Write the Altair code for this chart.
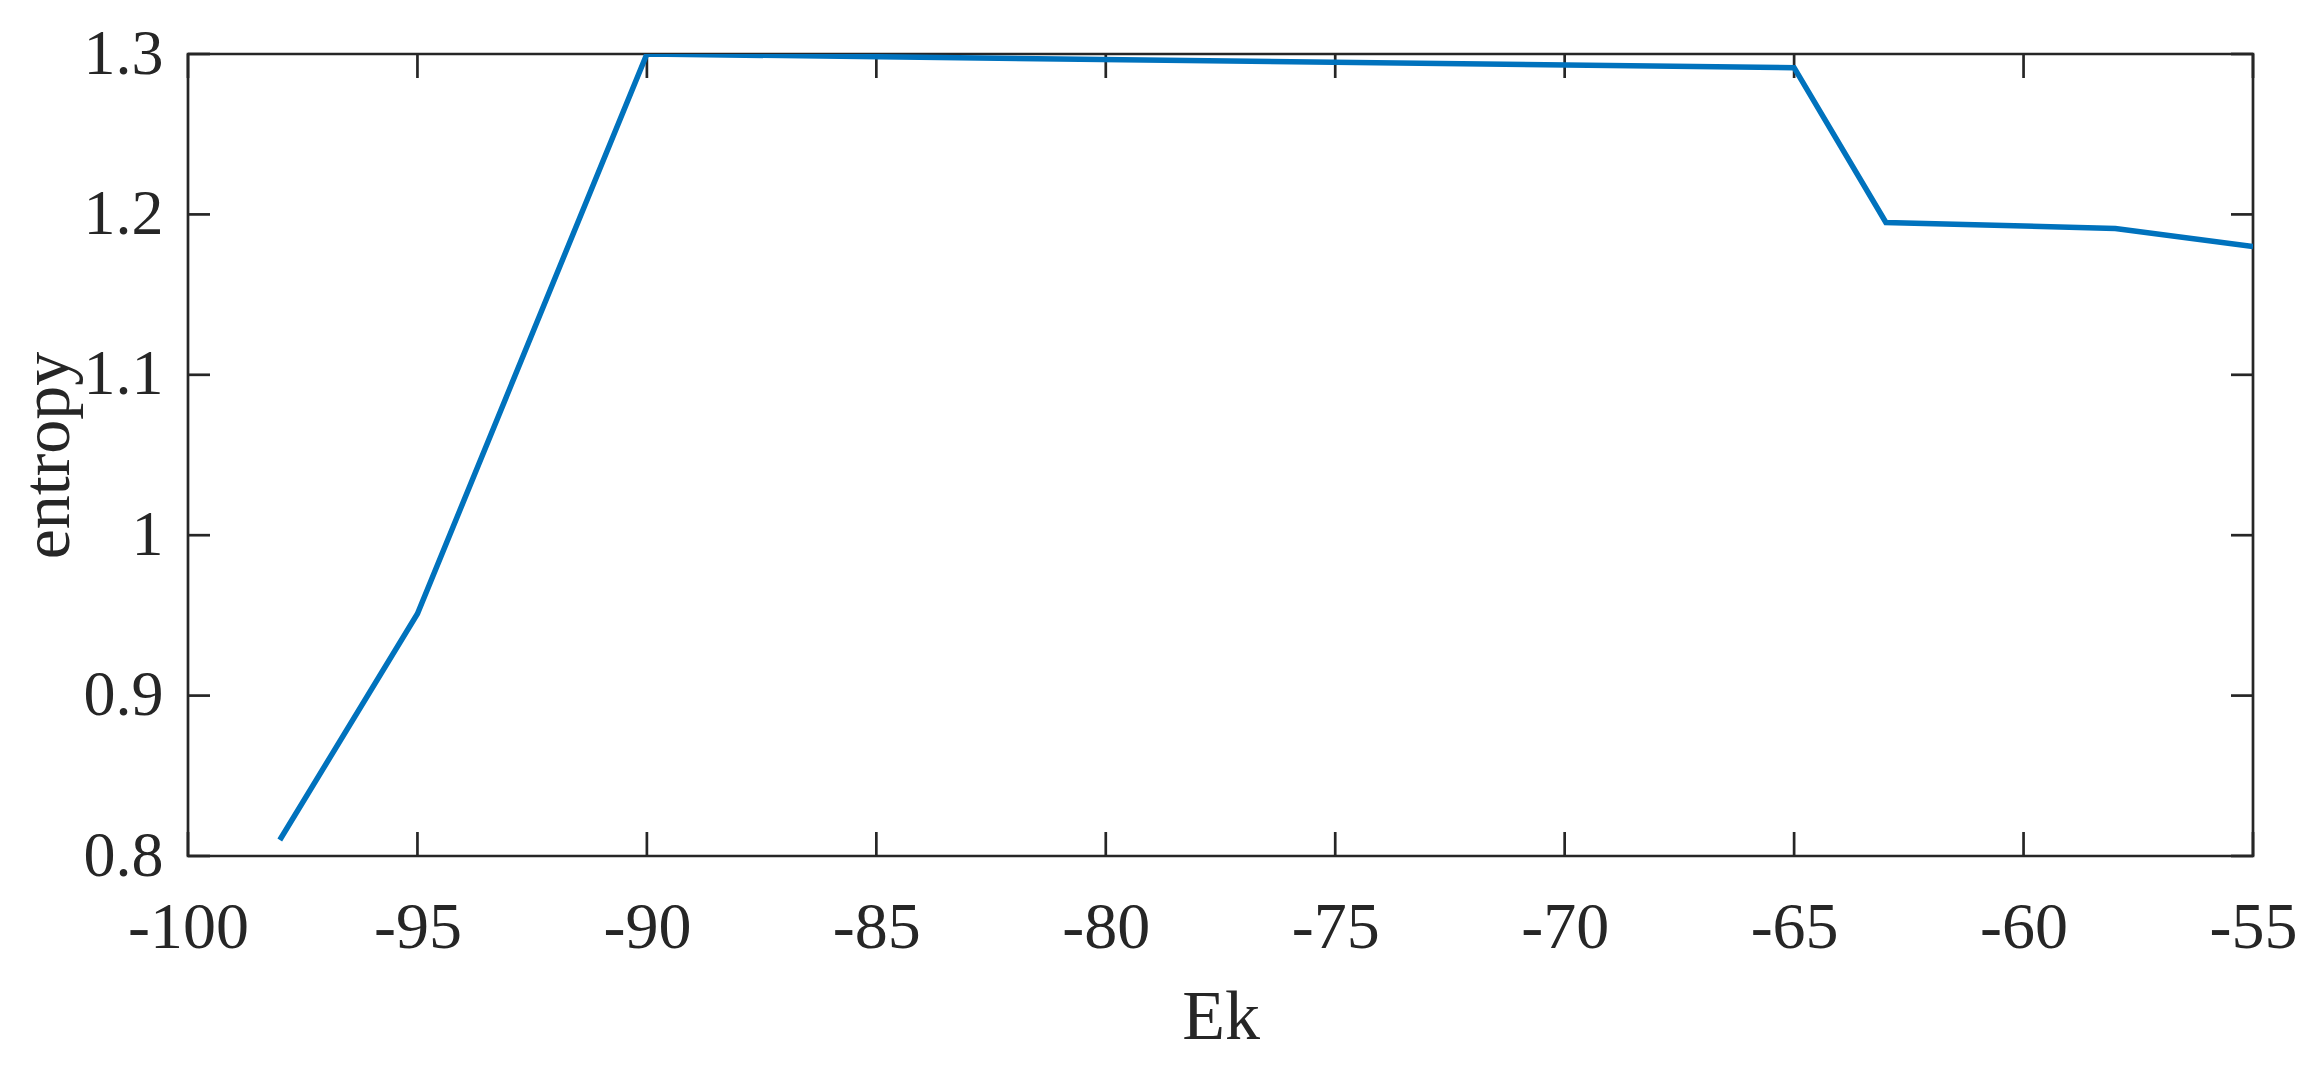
import altair as alt
import pandas as pd

# data
ek = [-98, -95, -90, -65, -63, -58, -55]
entropy = [0.81, 0.951, 1.300, 1.2915, 1.195, 1.1912, 1.180]

x_ticks = [-100, -95, -90, -85, -80, -75, -70, -65, -60, -55]
y_ticks = [0.8, 0.9, 1.0, 1.1, 1.2, 1.3]

W, H = 2065, 802
FONT = "Times New Roman, Liberation Serif, serif"
INK = "#262626"

df = pd.DataFrame({"Ek": ek, "entropy": entropy})
xt = pd.DataFrame({"v": x_ticks})
yt = pd.DataFrame({"v": y_ticks})

xscale = alt.Scale(domain=[-100, -55], nice=False, zero=False)
yscale = alt.Scale(domain=[0.8, 1.3], nice=False, zero=False)

lab = "replace(format(datum.value, '~g'), '\u2212', '-')"

line = alt.Chart(df).mark_line(color="#0072BD", strokeWidth=5.5, clip=True).encode(
    x=alt.X("Ek:Q", scale=xscale,
            axis=alt.Axis(values=x_ticks, title="Ek", grid=False, domain=False,
                          tickSize=0, labelExpr=lab, labelFont=FONT, labelFontSize=66,
                          labelColor=INK, labelBaseline="alphabetic", labelPadding=91,
                          labelFlush=False,
                          titleFont=FONT, titleFontSize=70, titleFontWeight="normal",
                          titleColor=INK, titleBaseline="alphabetic",
                          titleX=W / 2, titleY=182, titleAnchor="middle")),
    y=alt.Y("entropy:Q", scale=yscale,
            axis=alt.Axis(values=y_ticks, title="entropy", grid=False, domain=False,
                          tickSize=0, labelExpr=lab, labelFont=FONT, labelFontSize=64,
                          labelColor=INK, labelBaseline="middle", labelPadding=25,
                          labelFlush=False,
                          titleFont=FONT, titleFontSize=68, titleFontWeight="normal",
                          titleColor=INK, titleAngle=270, titleBaseline="middle",
                          titleAlign="center", titleX=-140, titleY=H / 2)),
)

TL = 24
tick_style = dict(color=INK, strokeWidth=2.7)
xb = alt.Chart(xt).mark_rule(**tick_style).encode(
    x=alt.X("v:Q", scale=xscale), y=alt.value(H), y2=alt.value(H - TL))
xtop = alt.Chart(xt).mark_rule(**tick_style).encode(
    x=alt.X("v:Q", scale=xscale), y=alt.value(0), y2=alt.value(TL))
yl = alt.Chart(yt).mark_rule(**tick_style).encode(
    y=alt.Y("v:Q", scale=yscale), x=alt.value(0), x2=alt.value(TL - 2))
yr = alt.Chart(yt).mark_rule(**tick_style).encode(
    y=alt.Y("v:Q", scale=yscale), x=alt.value(W), x2=alt.value(W - TL + 2))

chart = alt.layer(xb, xtop, yl, yr, line).properties(
    width=W, height=H,
    autosize=alt.AutoSizeParams(type="none"),
    padding={"left": 180, "top": 46, "right": 48, "bottom": 200},
    background="white",
).configure_view(stroke=INK, strokeWidth=2.7)

chart.save("out.html", embed_options={"renderer": "svg", "actions": False})
